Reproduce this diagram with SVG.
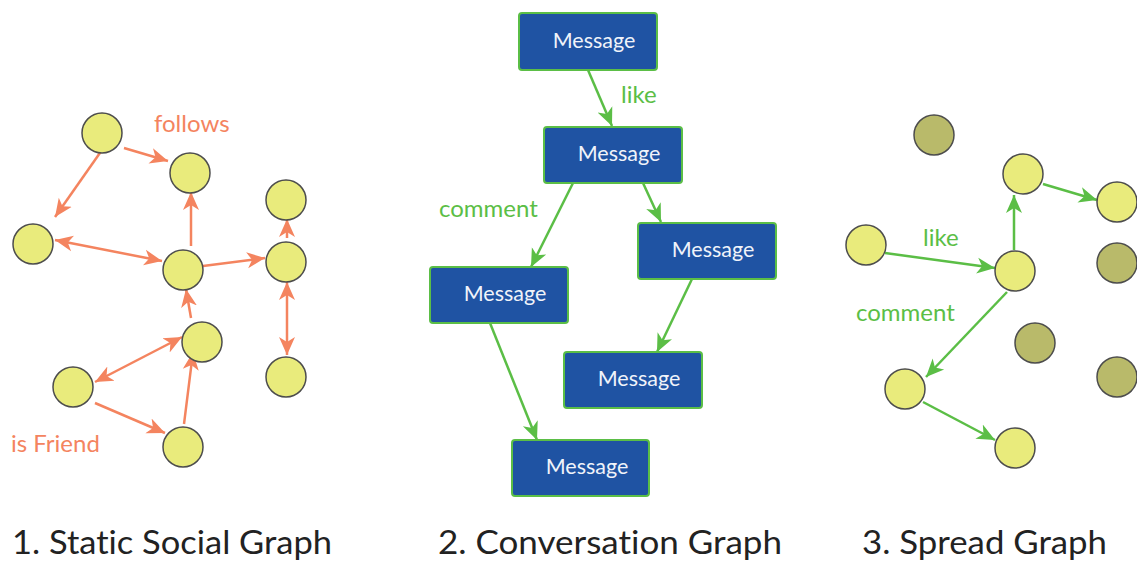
<svg xmlns="http://www.w3.org/2000/svg" width="1137" height="562" viewBox="0 0 1137 562">
<style>
text{font-variant-ligatures:none}
.n{fill:#E9EB7C;stroke:#4d4d4d;stroke-width:1.5}
.d{fill:#B9BA6A;stroke:#4d4d4d;stroke-width:1.5}
.o{stroke:#F4845F;stroke-width:2.5;fill:none}
.g{stroke:#5BBE46;stroke-width:2.5;fill:none}
.box{fill:#1F53A3;stroke:#5BBE46;stroke-width:2}
.bt{font-family:Lato,"Liberation Sans",sans-serif;font-size:21.5px;fill:#F0F3FA;text-anchor:middle}
.lo{font-family:Lato,"Liberation Sans",sans-serif;font-size:24px;fill:#F4845F}
.lg{font-family:Lato,"Liberation Sans",sans-serif;font-size:24px;fill:#5BBE46}
.t{font-family:Lato,"Liberation Sans",sans-serif;font-size:33px;fill:#222}
</style>
<defs>
<marker id="ao" markerUnits="userSpaceOnUse" markerWidth="20" markerHeight="18" refX="18" refY="8" orient="auto-start-reverse" viewBox="0 0 20 16"><path d="M0,0 L18,8 L0,16 L5,8 z" fill="#F4845F"/></marker>
<marker id="ag" markerUnits="userSpaceOnUse" markerWidth="20" markerHeight="18" refX="18" refY="8" orient="auto-start-reverse" viewBox="0 0 20 16"><path d="M0,0 L18,8 L0,16 L5,8 z" fill="#5BBE46"/></marker>
</defs>
<rect width="1137" height="562" fill="#fff"/>
<g id="connectors">
<line class="o" x1="124" y1="148" x2="168" y2="161" marker-end="url(#ao)"/>
<line class="o" x1="102" y1="150" x2="55" y2="217" marker-end="url(#ao)"/>
<line class="o" x1="55" y1="240" x2="162" y2="261" marker-start="url(#ao)" marker-end="url(#ao)"/>
<line class="o" x1="191" y1="246" x2="191" y2="192" marker-end="url(#ao)"/>
<line class="o" x1="203" y1="266" x2="265" y2="258" marker-end="url(#ao)"/>
<line class="o" x1="287" y1="238" x2="287" y2="219" marker-end="url(#ao)"/>
<line class="o" x1="191" y1="318" x2="186" y2="289" marker-end="url(#ao)"/>
<line class="o" x1="95" y1="382" x2="182" y2="337" marker-start="url(#ao)" marker-end="url(#ao)"/>
<line class="o" x1="95" y1="403" x2="165" y2="433" marker-end="url(#ao)"/>
<line class="o" x1="184" y1="424" x2="193" y2="352" marker-end="url(#ao)"/>
<line class="o" x1="287" y1="282" x2="287" y2="355" marker-start="url(#ao)" marker-end="url(#ao)"/>
<line class="g" x1="588" y1="70" x2="612" y2="126" marker-end="url(#ag)"/>
<line class="g" x1="573" y1="183" x2="531" y2="267" marker-end="url(#ag)"/>
<line class="g" x1="643" y1="183" x2="661" y2="222" marker-end="url(#ag)"/>
<line class="g" x1="692" y1="279" x2="657" y2="352" marker-end="url(#ag)"/>
<line class="g" x1="490" y1="323" x2="537" y2="440" marker-end="url(#ag)"/>
<line class="g" x1="885" y1="253" x2="995" y2="268" marker-end="url(#ag)"/>
<line class="g" x1="1014" y1="250" x2="1014" y2="195" marker-end="url(#ag)"/>
<line class="g" x1="1043" y1="184" x2="1097" y2="200" marker-end="url(#ag)"/>
<line class="g" x1="1007" y1="292" x2="926" y2="377" marker-end="url(#ag)"/>
<line class="g" x1="923" y1="402" x2="995" y2="440" marker-end="url(#ag)"/>
</g>
<g id="p1-nodes">
<circle id="p1a" class="n" cx="102" cy="133" r="20"/>
<circle id="p1b" class="n" cx="190" cy="173" r="20"/>
<circle id="p1c" class="n" cx="33" cy="244" r="20"/>
<circle id="p1d" class="n" cx="183" cy="270" r="20"/>
<circle id="p1e" class="n" cx="286" cy="200" r="20"/>
<circle id="p1f" class="n" cx="286" cy="262" r="20"/>
<circle id="p1g" class="n" cx="202" cy="342" r="20"/>
<circle id="p1h" class="n" cx="73" cy="387" r="20"/>
<circle id="p1i" class="n" cx="183" cy="447" r="20"/>
<circle id="p1j" class="n" cx="286" cy="377" r="20"/>
</g>
<g id="p2-nodes">
<g id="m1"><rect class="box" x="519" y="13" width="138" height="57" rx="3"/><text class="bt" x="594" y="48">Message</text></g>
<g id="m2"><rect class="box" x="544" y="127" width="138" height="56" rx="3"/><text class="bt" x="619" y="161">Message</text></g>
<g id="m3"><rect class="box" x="638" y="223" width="138" height="56" rx="3"/><text class="bt" x="713" y="257">Message</text></g>
<g id="m4"><rect class="box" x="430" y="267" width="138" height="56" rx="3"/><text class="bt" x="505" y="301">Message</text></g>
<g id="m5"><rect class="box" x="564" y="352" width="138" height="56" rx="3"/><text class="bt" x="639" y="386">Message</text></g>
<g id="m6"><rect class="box" x="512" y="440" width="137" height="56" rx="3"/><text class="bt" x="587" y="474">Message</text></g>
</g>
<g id="p3-nodes">
<circle id="p3a" class="d" cx="934" cy="135" r="20"/>
<circle id="p3b" class="n" cx="1023" cy="174" r="20"/>
<circle id="p3c" class="n" cx="1117" cy="202" r="20"/>
<circle id="p3d" class="n" cx="866" cy="245" r="20"/>
<circle id="p3e" class="n" cx="1015" cy="271" r="20"/>
<circle id="p3f" class="d" cx="1117" cy="263" r="20"/>
<circle id="p3g" class="d" cx="1035" cy="343" r="20"/>
<circle id="p3h" class="d" cx="1117" cy="377" r="20"/>
<circle id="p3i" class="n" cx="905" cy="389" r="20"/>
<circle id="p3j" class="n" cx="1015" cy="448" r="20"/>
</g>
<g id="labels">
<text class="lo" x="154" y="132">follows</text>
<text class="lo" x="11" y="452">is Friend</text>
<text class="lg" x="621" y="103">like</text>
<text class="lg" x="439" y="217">comment</text>
<text class="lg" x="923" y="246">like</text>
<text class="lg" x="856" y="321">comment</text>
</g>
<g id="titles">
<text class="t" x="12" y="554" textLength="320" lengthAdjust="spacingAndGlyphs">1. Static Social Graph</text>
<text class="t" x="438" y="554" textLength="344" lengthAdjust="spacingAndGlyphs">2. Conversation Graph</text>
<text class="t" x="862" y="554" textLength="245" lengthAdjust="spacingAndGlyphs">3. Spread Graph</text>
</g>
</svg>
